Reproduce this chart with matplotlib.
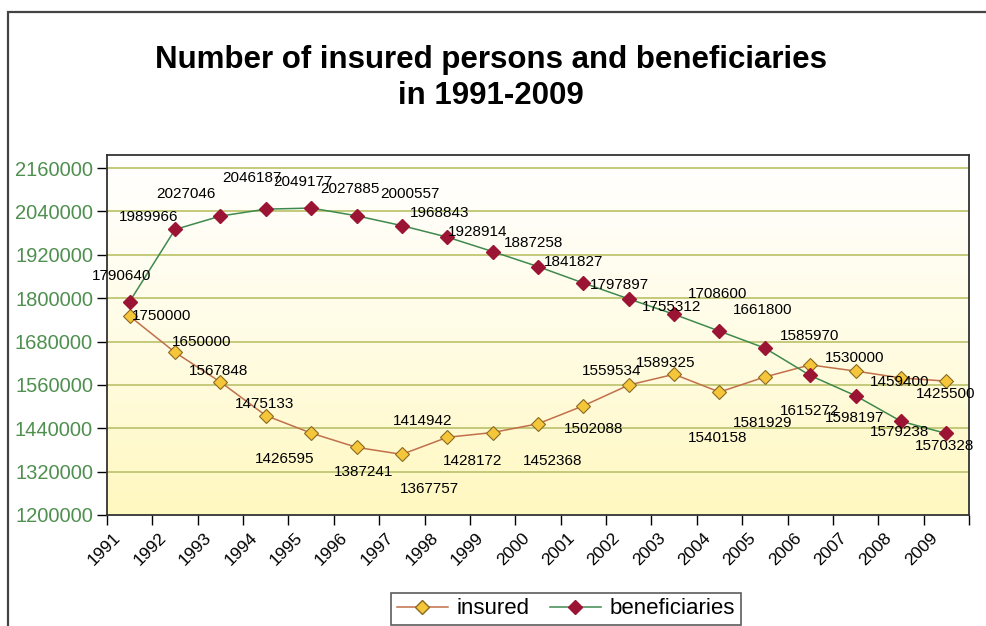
import numpy as np
import matplotlib
matplotlib.use('Agg')
import matplotlib.pyplot as plt
import matplotlib.transforms as mtransforms
from matplotlib.patches import Rectangle
from matplotlib.lines import Line2D

plt.rcParams['font.family'] = ['Liberation Sans', 'DejaVu Sans']

# ─────────────────────────────────────────────
# DATA
# ─────────────────────────────────────────────
years = [str(y) for y in range(1991, 2010)]

insured = [1750000, 1650000, 1567848, 1475133, 1426595, 1387241, 1367757,
           1414942, 1428172, 1452368, 1502088, 1559534, 1589325, 1540158,
           1581929, 1615272, 1598197, 1579238, 1570328]

beneficiaries = [1790640, 1989966, 2027046, 2046187, 2049177, 2027885, 2000557,
                 1968843, 1928914, 1887258, 1841827, 1797897, 1755312, 1708600,
                 1661800, 1585970, 1530000, 1459400, 1425500]

y_ticks = list(range(1200000, 2160001, 120000))

# label offsets in pixels (dx, dy up) as seen on the source picture
insured_off = [(32, 0), (27, 10), (-2, 11), (-1, 12), (-27, -26), (7, -25),
               (28, -35), (-25, 16), (-20, -28), (15, -37), (10, -23),
               (-17, 14), (-8, 11), (-2, -46), (-2, -46), (-1, -46),
               (-1, -47), (-1, -54), (-2, -65)]
benef_off = [(-8, 26), (-26, 12), (-34, 22), (-14, 31), (-8, 26), (-7, 27),
             (8, 32), (-8, 24), (-15, 20), (-4, 24), (-10, 21), (-9, 14),
             (-3, 7), (-2, 37), (-2, 38), (-1, 39), (-1, 38), (-1, 39),
             (-1, 39)]

# ─────────────────────────────────────────────
# FIGURE
# ─────────────────────────────────────────────
W, H = 987, 626
fig = plt.figure(figsize=(W / 100, H / 100), dpi=100)
fig.patch.set_facecolor('white')

ax = fig.add_axes([107 / W, 1 - 515 / H, 862 / W, 360 / H])
x = np.arange(len(years))

# gradient background (white top -> pale yellow bottom)
grad = np.linspace(0, 1, 256).reshape(-1, 1)
cmap = matplotlib.colors.LinearSegmentedColormap.from_list(
    'bg', ['#fff8bf', '#fffce6', '#ffffff'])
ax.imshow(grad, extent=[0, 1, 0, 1], transform=ax.transAxes, cmap=cmap,
          aspect='auto', origin='lower', zorder=0)

ax.set_xlim(-0.5, len(years) - 0.5)
ax.set_ylim(1200000, 2196000)

for yv in y_ticks[1:]:
    ax.axhline(yv, color='#c5c97a', lw=1.4, zorder=1)

ax.plot(x, insured, color='#c0704a', lw=1.1, marker='D', markersize=7,
        markerfacecolor='#f5c63a', markeredgecolor='#8a6a20',
        markeredgewidth=0.8, zorder=3)
ax.plot(x, beneficiaries, color='#3e8a4e', lw=1.1, marker='D', markersize=7,
        markerfacecolor='#9c1434', markeredgecolor='#9c1434', zorder=4)

for i in range(len(years)):
    ax.annotate(str(insured[i]), (x[i], insured[i]),
                xytext=insured_off[i], textcoords='offset pixels',
                ha='center', va='center', fontsize=11, color='black', zorder=5)
    ax.annotate(str(beneficiaries[i]), (x[i], beneficiaries[i]),
                xytext=benef_off[i], textcoords='offset pixels',
                ha='center', va='center', fontsize=11, color='black', zorder=5)

# axes styling
for sp in ax.spines.values():
    sp.set_color('#333333')
    sp.set_linewidth(1.3)

ax.set_yticks(y_ticks)
ax.set_yticklabels([str(v) for v in y_ticks], color='#4f8f4f', fontsize=14.5)
ax.tick_params(axis='y', direction='out', length=7, width=1, pad=3)

ax.set_xticks(np.arange(-0.5, len(years), 1.0))
ax.set_xticklabels([])
ax.tick_params(axis='x', which='major', direction='out', length=7, width=1)
ax.set_xticks(x, minor=True)
ax.set_xticklabels(years, minor=True, rotation=45, ha='right', fontsize=12.5)
ax.tick_params(axis='x', which='minor', length=0, pad=11)
shift = mtransforms.ScaledTranslation(-6 / 100, 0, fig.dpi_scale_trans)
for lbl in ax.get_xticklabels(minor=True):
    lbl.set_transform(lbl.get_transform() + shift)

# title
fig.text(491 / W, 1 - 78 / H, 'Number of insured persons and beneficiaries\nin 1991-2009',
         ha='center', va='center', fontsize=22.5, fontweight='bold',
         linespacing=1.3)

# legend
handles = [
    Line2D([], [], color='#c0704a', lw=1.1, marker='D', markersize=7,
           markerfacecolor='#f5c63a', markeredgecolor='#8a6a20'),
    Line2D([], [], color='#3e8a4e', lw=1.1, marker='D', markersize=7,
           markerfacecolor='#9c1434', markeredgecolor='#9c1434'),
]
leg = fig.legend(handles, ['insured', 'beneficiaries'], ncol=2,
                 loc='center', bbox_to_anchor=(566 / W, 1 - 609 / H),
                 fontsize=16, frameon=True, fancybox=False,
                 handlelength=2.3, handletextpad=0.4, columnspacing=0.9,
                 borderpad=0.25)
leg.get_frame().set_edgecolor('#333333')
leg.get_frame().set_linewidth(1.2)

# outer chart border (runs past right and bottom edges)
fig.patches.append(Rectangle((8 / W, -0.1), 1.2, 1.1 - 12 / H,
                             transform=fig.transFigure, fill=False,
                             edgecolor='#444444', lw=1.6))

plt.savefig('out.png', dpi=100)
plt.close()
